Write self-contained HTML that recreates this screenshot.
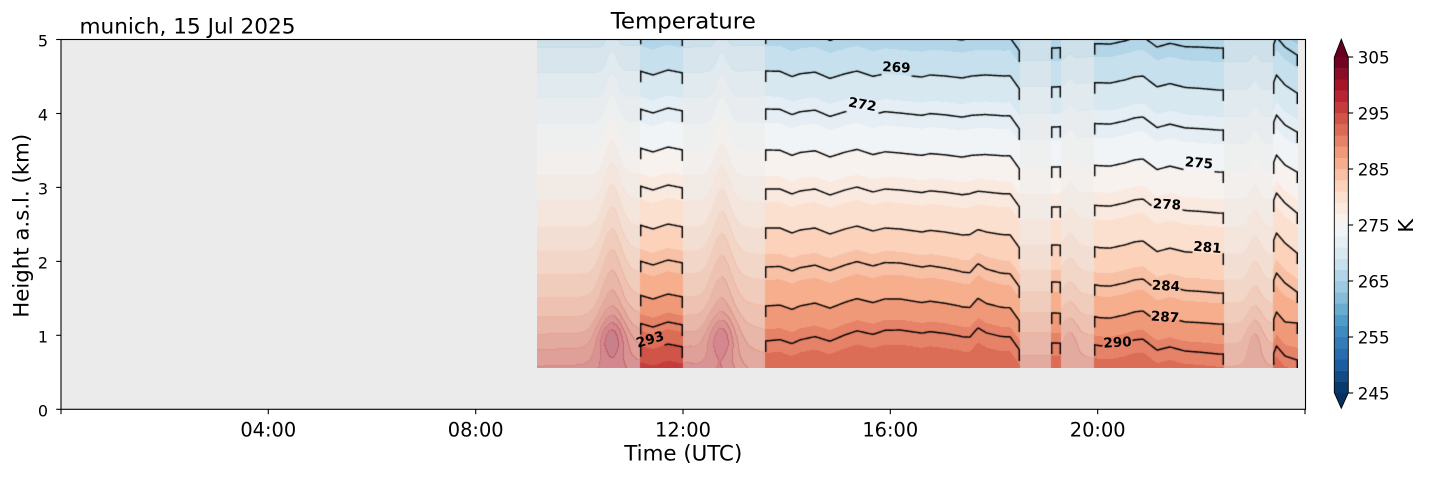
<!DOCTYPE html>
<html>
<head>
<meta charset="utf-8">
<style>
html,body{margin:0;padding:0;background:#fff;}
body{width:1429px;height:478px;position:relative;overflow:hidden;font-family:"DejaVu Sans","Liberation Sans",sans-serif;}
svg{position:absolute;left:0;top:0;}
#cv{position:absolute;left:537px;top:40px;width:761px;height:328px;}
</style>
</head>
<body>
<svg width="1429" height="478" style="z-index:0">
  <defs>
    <linearGradient id="fb" x1="0" y1="0" x2="0" y2="1">
      <stop offset="0" stop-color="#b1d5e7"/>
      <stop offset="0.11" stop-color="#d1e5f0"/>
      <stop offset="0.223" stop-color="#e4eef3"/>
      <stop offset="0.34" stop-color="#f7f7f7"/>
      <stop offset="0.457" stop-color="#fae9df"/>
      <stop offset="0.576" stop-color="#fddbc7"/>
      <stop offset="0.68" stop-color="#f8c0a4"/>
      <stop offset="0.79" stop-color="#f4a582"/>
      <stop offset="0.884" stop-color="#e58267"/>
      <stop offset="1" stop-color="#db6b56"/>
    </linearGradient>
  </defs>
  <rect x="61" y="39.5" width="1244.5" height="369.8" fill="#ebebeb"/>
  <rect x="537" y="40" width="761" height="328" fill="url(#fb)"/>
</svg>

<canvas id="cv" width="761" height="328" style="z-index:1"></canvas>

<svg width="1429" height="478" style="z-index:2" font-family="DejaVu Sans, Liberation Sans, sans-serif">
  <rect x="61" y="39.5" width="1244.5" height="369.8" fill="none" stroke="#000" stroke-width="1.1"/>
  <g stroke="#000" stroke-width="1.1">
    <line x1="56.2" y1="409.3" x2="61" y2="409.3"/>
    <line x1="56.2" y1="335.3" x2="61" y2="335.3"/>
    <line x1="56.2" y1="261.4" x2="61" y2="261.4"/>
    <line x1="56.2" y1="187.4" x2="61" y2="187.4"/>
    <line x1="56.2" y1="113.5" x2="61" y2="113.5"/>
    <line x1="56.2" y1="39.5" x2="61" y2="39.5"/>
  </g>
  <g font-size="16" text-anchor="end" fill="#000">
    <text x="48" y="416.5">0</text>
    <text x="48" y="342.3">1</text>
    <text x="48" y="268.4">2</text>
    <text x="48" y="194.4">3</text>
    <text x="48" y="120.5">4</text>
    <text x="48" y="46.5">5</text>
  </g>
  <g stroke="#000" stroke-width="1.1">
    <line x1="61" y1="409.3" x2="61" y2="414.2"/>
    <line x1="268.3" y1="409.3" x2="268.3" y2="414.2"/>
    <line x1="475.7" y1="409.3" x2="475.7" y2="414.2"/>
    <line x1="683" y1="409.3" x2="683" y2="414.2"/>
    <line x1="890.3" y1="409.3" x2="890.3" y2="414.2"/>
    <line x1="1097.7" y1="409.3" x2="1097.7" y2="414.2"/>
    <line x1="1305" y1="409.3" x2="1305" y2="414.2"/>
  </g>
  <g font-size="19.4" text-anchor="middle" fill="#000">
    <text x="268.3" y="436.7">04:00</text>
    <text x="475.7" y="436.7">08:00</text>
    <text x="683" y="436.7">12:00</text>
    <text x="890.3" y="436.7">16:00</text>
    <text x="1097.7" y="436.7">20:00</text>
  </g>
  <text x="683.3" y="460.7" font-size="21" text-anchor="middle" textLength="118" lengthAdjust="spacingAndGlyphs">Time (UTC)</text>
  <text transform="translate(28.3,225.8) rotate(-90)" font-size="21" text-anchor="middle" textLength="184" lengthAdjust="spacingAndGlyphs">Height a.s.l. (km)</text>
  <text x="683.3" y="28.3" font-size="22" text-anchor="middle" textLength="145" lengthAdjust="spacingAndGlyphs">Temperature</text>
  <text x="79.5" y="33.3" font-size="21.5" textLength="216" lengthAdjust="spacingAndGlyphs">munich, 15 Jul 2025</text>

  <g font-size="13.5" font-weight="bold" text-anchor="middle" fill="#000">
    <text transform="translate(650,339) rotate(-16)" y="4.9">293</text>
    <text transform="translate(896.5,67) rotate(3)" y="4.9">269</text>
    <text transform="translate(862.5,104) rotate(10)" y="4.9">272</text>
    <text transform="translate(1199,162.5) rotate(5)" y="4.9">275</text>
    <text transform="translate(1167,204) rotate(3)" y="4.9">278</text>
    <text transform="translate(1207.5,247) rotate(5)" y="4.9">281</text>
    <text transform="translate(1166,285.5) rotate(3)" y="4.9">284</text>
    <text transform="translate(1165,316.5) rotate(4)" y="4.9">287</text>
    <text transform="translate(1117.5,342) rotate(-3)" y="4.9">290</text>
  </g>

  <g>
    <polygon points="1334.3,57.3 1341.3,39.3 1348.3,57.3" fill="#67001f"/>
    <polygon points="1334.3,392.7 1348.3,392.7 1341.3,408.3" fill="#053061"/>
    <rect x="1334.3" y="381.8" width="14" height="11.4" fill="#0a396e"/>
    <rect x="1334.3" y="370.6" width="14" height="11.4" fill="#134b86"/>
    <rect x="1334.3" y="359.4" width="14" height="11.4" fill="#1c5d9f"/>
    <rect x="1334.3" y="348.2" width="14" height="11.4" fill="#276db0"/>
    <rect x="1334.3" y="337.0" width="14" height="11.4" fill="#327cb7"/>
    <rect x="1334.3" y="325.8" width="14" height="11.4" fill="#3d8bbf"/>
    <rect x="1334.3" y="314.6" width="14" height="11.4" fill="#509bc7"/>
    <rect x="1334.3" y="303.4" width="14" height="11.4" fill="#6aacd0"/>
    <rect x="1334.3" y="292.2" width="14" height="11.4" fill="#85bdd9"/>
    <rect x="1334.3" y="281.0" width="14" height="11.4" fill="#9ccae1"/>
    <rect x="1334.3" y="269.8" width="14" height="11.4" fill="#b1d5e7"/>
    <rect x="1334.3" y="258.6" width="14" height="11.4" fill="#c6e0ed"/>
    <rect x="1334.3" y="247.4" width="14" height="11.4" fill="#d7e8f1"/>
    <rect x="1334.3" y="236.2" width="14" height="11.4" fill="#e4eef3"/>
    <rect x="1334.3" y="225.0" width="14" height="11.4" fill="#f1f4f6"/>
    <rect x="1334.3" y="213.8" width="14" height="11.4" fill="#f8f2ef"/>
    <rect x="1334.3" y="202.6" width="14" height="11.4" fill="#fae9df"/>
    <rect x="1334.3" y="191.4" width="14" height="11.4" fill="#fce0cf"/>
    <rect x="1334.3" y="180.2" width="14" height="11.4" fill="#fbd2bb"/>
    <rect x="1334.3" y="169.0" width="14" height="11.4" fill="#f8c0a4"/>
    <rect x="1334.3" y="157.8" width="14" height="11.4" fill="#f5ae8d"/>
    <rect x="1334.3" y="146.6" width="14" height="11.4" fill="#ef9979"/>
    <rect x="1334.3" y="135.4" width="14" height="11.4" fill="#e58267"/>
    <rect x="1334.3" y="124.2" width="14" height="11.4" fill="#db6b56"/>
    <rect x="1334.3" y="113.0" width="14" height="11.4" fill="#d05447"/>
    <rect x="1334.3" y="101.8" width="14" height="11.4" fill="#c43c3c"/>
    <rect x="1334.3" y="90.6" width="14" height="11.4" fill="#b82431"/>
    <rect x="1334.3" y="79.4" width="14" height="11.4" fill="#a51429"/>
    <rect x="1334.3" y="68.2" width="14" height="11.4" fill="#8c0c25"/>
    <rect x="1334.3" y="57.0" width="14" height="11.4" fill="#730421"/>
    <polygon points="1334.3,57.3 1341.3,39.3 1348.3,57.3 1348.3,392.7 1341.3,408.3 1334.3,392.7" fill="none" stroke="#000" stroke-width="0.9"/>
  </g>
  <g stroke="#000" stroke-width="1.1">
    <line x1="1348.3" y1="393" x2="1353.2" y2="393"/>
    <line x1="1348.3" y1="337" x2="1353.2" y2="337"/>
    <line x1="1348.3" y1="281" x2="1353.2" y2="281"/>
    <line x1="1348.3" y1="225" x2="1353.2" y2="225"/>
    <line x1="1348.3" y1="169" x2="1353.2" y2="169"/>
    <line x1="1348.3" y1="113" x2="1353.2" y2="113"/>
    <line x1="1348.3" y1="57" x2="1353.2" y2="57"/>
  </g>
  <g font-size="16.7" fill="#000">
    <text x="1357.8" y="399.3">245</text>
    <text x="1357.8" y="343.3">255</text>
    <text x="1357.8" y="287.3">265</text>
    <text x="1357.8" y="231.3">275</text>
    <text x="1357.8" y="175.3">285</text>
    <text x="1357.8" y="119.3">295</text>
    <text x="1357.8" y="63.3">305</text>
  </g>
  <text transform="translate(1413,225.8) rotate(-90)" font-size="20.8" text-anchor="middle">K</text>
</svg>

<script>
(function(){
var cv=document.getElementById('cv'); if(!cv||!cv.getContext) return;
var ctx=cv.getContext('2d');
var CX=537,CY=40,CW=761,CH=328;
var LV=[296,293,290,287,284,281,278,275,272,269,266,263];
var A660=[372,347,325,297,263,227,188,150,111,73,35,3];
var A1277=[405,378,346,312,273,233,193,155,115,75,37,5];
function add(a,d){var r=[];for(var i=0;i<a.length;i++)r.push(a[i]+d);return r;}
var AN=[
[537,[375,350,327,298,263,227,188,150,111,73,35,3]],
[660,A660],[690,A660],
[765,[400,378,342,307,268,229,190,151,110,72,34,2]],
[900,[402,374,330,299,263,229,190,153,113,75,37,5]],
[1010,[408,380,336,307,273,234,193,155,115,75,37,5]],
[1019.5,[422,394,350,321,287,248,207,169,129,89,51,19]],
[1020.5,[410,382,343,313,282,245,207,167,127,87,48,15]],
[1056,[410,382,343,313,282,245,207,167,127,87,48,15]],
[1100,[412,385,345,317,285,247,205,165,123,82,43,10]],
[1135,[410,382,342,314,282,244,202,162,120,79,40,7]],
[1220,[420,392,354,324,293,254,213,172,130,90,48,15]],
[1272.5,[420,392,354,324,293,254,213,172,130,90,48,15]],
[1273.5,add(A1277,8)],
[1276.5,A1277],
[1285,add(A1277,10)],
[1297,[420,392,360,323,292,253,213,172,132,93,55,21]]
];
var WA=[[600,0],[640,-2],[653,2],[668,-3],[683,0],[765,-1],[780,-1],[792,4],[800,1],[815,-1],[830,5],[845,0],[857,-3],[873,2],[885,-1],[900,0],[922,2],[930,0],[945,1],[962,3],[972,1],[985,0],[1005,1],[1019,0],[1094,0],[1110,2],[1125,0],[1143,-4],[1157,5],[1170,0],[1185,2],[1200,1],[1224,0]];
var WL=[[960,0],[970,2],[978,-7],[986,-2],[1000,0]];
var LW=[1,1,1,1,1,0.5,0.2,0,0,0,0,0];
function tab(t,x){var n=t.length; if(x<=t[0][0])return t[0][1]; if(x>=t[n-1][0])return t[n-1][1];
  for(var i=1;i<n;i++){ if(x<=t[i][0]){var a=t[i-1],b=t[i],f=(x-a[0])/(b[0]-a[0]);return a[1]+(b[1]-a[1])*f;} } return 0;}
function isoAt(x){var n=AN.length,a,b,f=0,r=[];
  if(x<=AN[0][0]){a=b=AN[0];} else if(x>=AN[n-1][0]){a=b=AN[n-1];}
  else { for(var i=1;i<n;i++){ if(x<=AN[i][0]){a=AN[i-1];b=AN[i];f=(x-a[0])/(b[0]-a[0]);break;} } }
  var wa=tab(WA,x), wl=tab(WL,x);
  for(var k=0;k<LV.length;k++) r.push(a[1][k]+(b[1][k]-a[1][k])*f+wa+wl*LW[k]);
  return r;}
function tAt(iso,y){var n=iso.length;
  if(y>=iso[0]) return LV[0]+(y-iso[0])*3/Math.max(1,iso[0]-iso[1]);
  for(var k=0;k<n-1;k++){ if(y>=iso[k+1]) return LV[k]-3*(iso[k]-y)/Math.max(0.5,iso[k]-iso[k+1]); }
  return LV[n-1]-(iso[n-1]-y)*3/Math.max(1,iso[n-2]-iso[n-1]);}
var FULL=[[640,683],[765,1020],[1051,1061],[1094,1224],[1273,1298]];
function isFull(x){for(var i=0;i<FULL.length;i++){if(x>=FULL[i][0]&&x<FULL[i][1])return true;}return false;}
var PL=[[612,1,1],[722,0.9,1],[1255,0.35,0.6],[1070,0.25,0.6]];
function plume(x,y){var f=(y-40)/328;
  var A=1.5+4*f+3.5*Math.exp(-Math.pow((y-335)/18,2))-(y>345?(y-345)*0.1:0);
  var sg=6+10*f, s=0;
  for(var i=0;i<PL.length;i++){var p=PL[i];var d=(x-p[0])/(sg*p[2]);s+=p[1]*A*Math.exp(-d*d);}
  return s;}
var CM=[[5,48,97],[33,102,172],[67,147,195],[146,197,222],[209,229,240],[247,247,247],[253,219,199],[244,165,130],[214,96,77],[178,24,43],[103,0,31]];
function cm(s){s=Math.max(0,Math.min(1,s));var f=s*10,i=Math.min(9,Math.floor(f)),t=f-i;
  return [CM[i][0]+(CM[i+1][0]-CM[i][0])*t,CM[i][1]+(CM[i+1][1]-CM[i][1])*t,CM[i][2]+(CM[i+1][2]-CM[i][2])*t];}
var BC=[]; for(var b=-1;b<=30;b++){BC.push(b<0?CM[0]:(b>29?CM[10]:cm((2*b+1)/60)));}
var bands=new Int16Array(CW*CH), fad=new Uint8Array(CW);
for(var i=0;i<CW;i++){
  var x=CX+i+0.5; var fd=isFull(x)?0:1; fad[i]=fd; var iso=isoAt(x);
  for(var j=0;j<CH;j++){
    var y=CY+j+0.5; var T=tAt(iso,y); if(fd) T+=plume(x,y);
    var bb=Math.floor((T-245)/2); if(bb<-1)bb=-1; if(bb>30)bb=30;
    bands[j*CW+i]=bb;
  }
}
var img=ctx.createImageData(CW,CH), D=img.data, BG=235;
for(var j=0;j<CH;j++){
  for(var i=0;i<CW;i++){
    var idx=j*CW+i, bb=bands[idx], c=BC[bb+1], r,g,bl;
    if(fad[i]){
      var edge=(j+1<CH&&bands[idx+CW]!==bb)||(i+1<CW&&fad[i+1]&&bands[idx+1]!==bb);
      var a=edge?0.68:0.5;
      r=BG+(c[0]-BG)*a; g=BG+(c[1]-BG)*a; bl=BG+(c[2]-BG)*a;
    } else { r=c[0]; g=c[1]; bl=c[2]; }
    var p=idx*4; D[p]=r; D[p+1]=g; D[p+2]=bl; D[p+3]=255;
  }
}
ctx.putImageData(img,0,0);
var LB={1:[636,664],9:[882,911],8:[847,878],7:[1184,1214],6:[1152,1182],5:[1193,1222],4:[1152,1180],3:[1151,1179],2:[1103,1132]};
ctx.strokeStyle='#000'; ctx.lineWidth=1.45; ctx.lineJoin='round'; ctx.lineCap='butt';
for(var q=0;q<FULL.length;q++){
  var a0=FULL[q][0], b0=FULL[q][1];
  ctx.save(); ctx.beginPath(); ctx.rect(a0-CX,0,b0-a0,CH); ctx.clip();
  var xs=[]; for(var xx=a0+0.5;xx<=b0-0.5;xx+=1) xs.push(xx);
  var isos=[]; for(var m=0;m<xs.length;m++) isos.push(isoAt(xs[m]));
  for(var k=0;k<LV.length;k++){
    var gap=LB[k]; ctx.beginPath(); var pen;
    var y0=isos[0][k];
    ctx.moveTo(a0+0.7-CX,y0+11-CY); ctx.lineTo(a0+0.7-CX,y0-CY); pen=true;
    for(var m=0;m<xs.length;m++){
      var x1=xs[m], y1=isos[m][k];
      if(gap&&x1>gap[0]&&x1<gap[1]){pen=false;continue;}
      if(pen) ctx.lineTo(x1-CX,y1-CY); else {ctx.moveTo(x1-CX,y1-CY);pen=true;}
    }
    var yl=isos[xs.length-1][k];
    if(pen) ctx.lineTo(b0-0.7-CX,yl-CY); else ctx.moveTo(b0-0.7-CX,yl-CY);
    ctx.lineTo(b0-0.7-CX,yl+11-CY);
    ctx.stroke();
  }
  ctx.restore();
}
})();
</script>
</body>
</html>
